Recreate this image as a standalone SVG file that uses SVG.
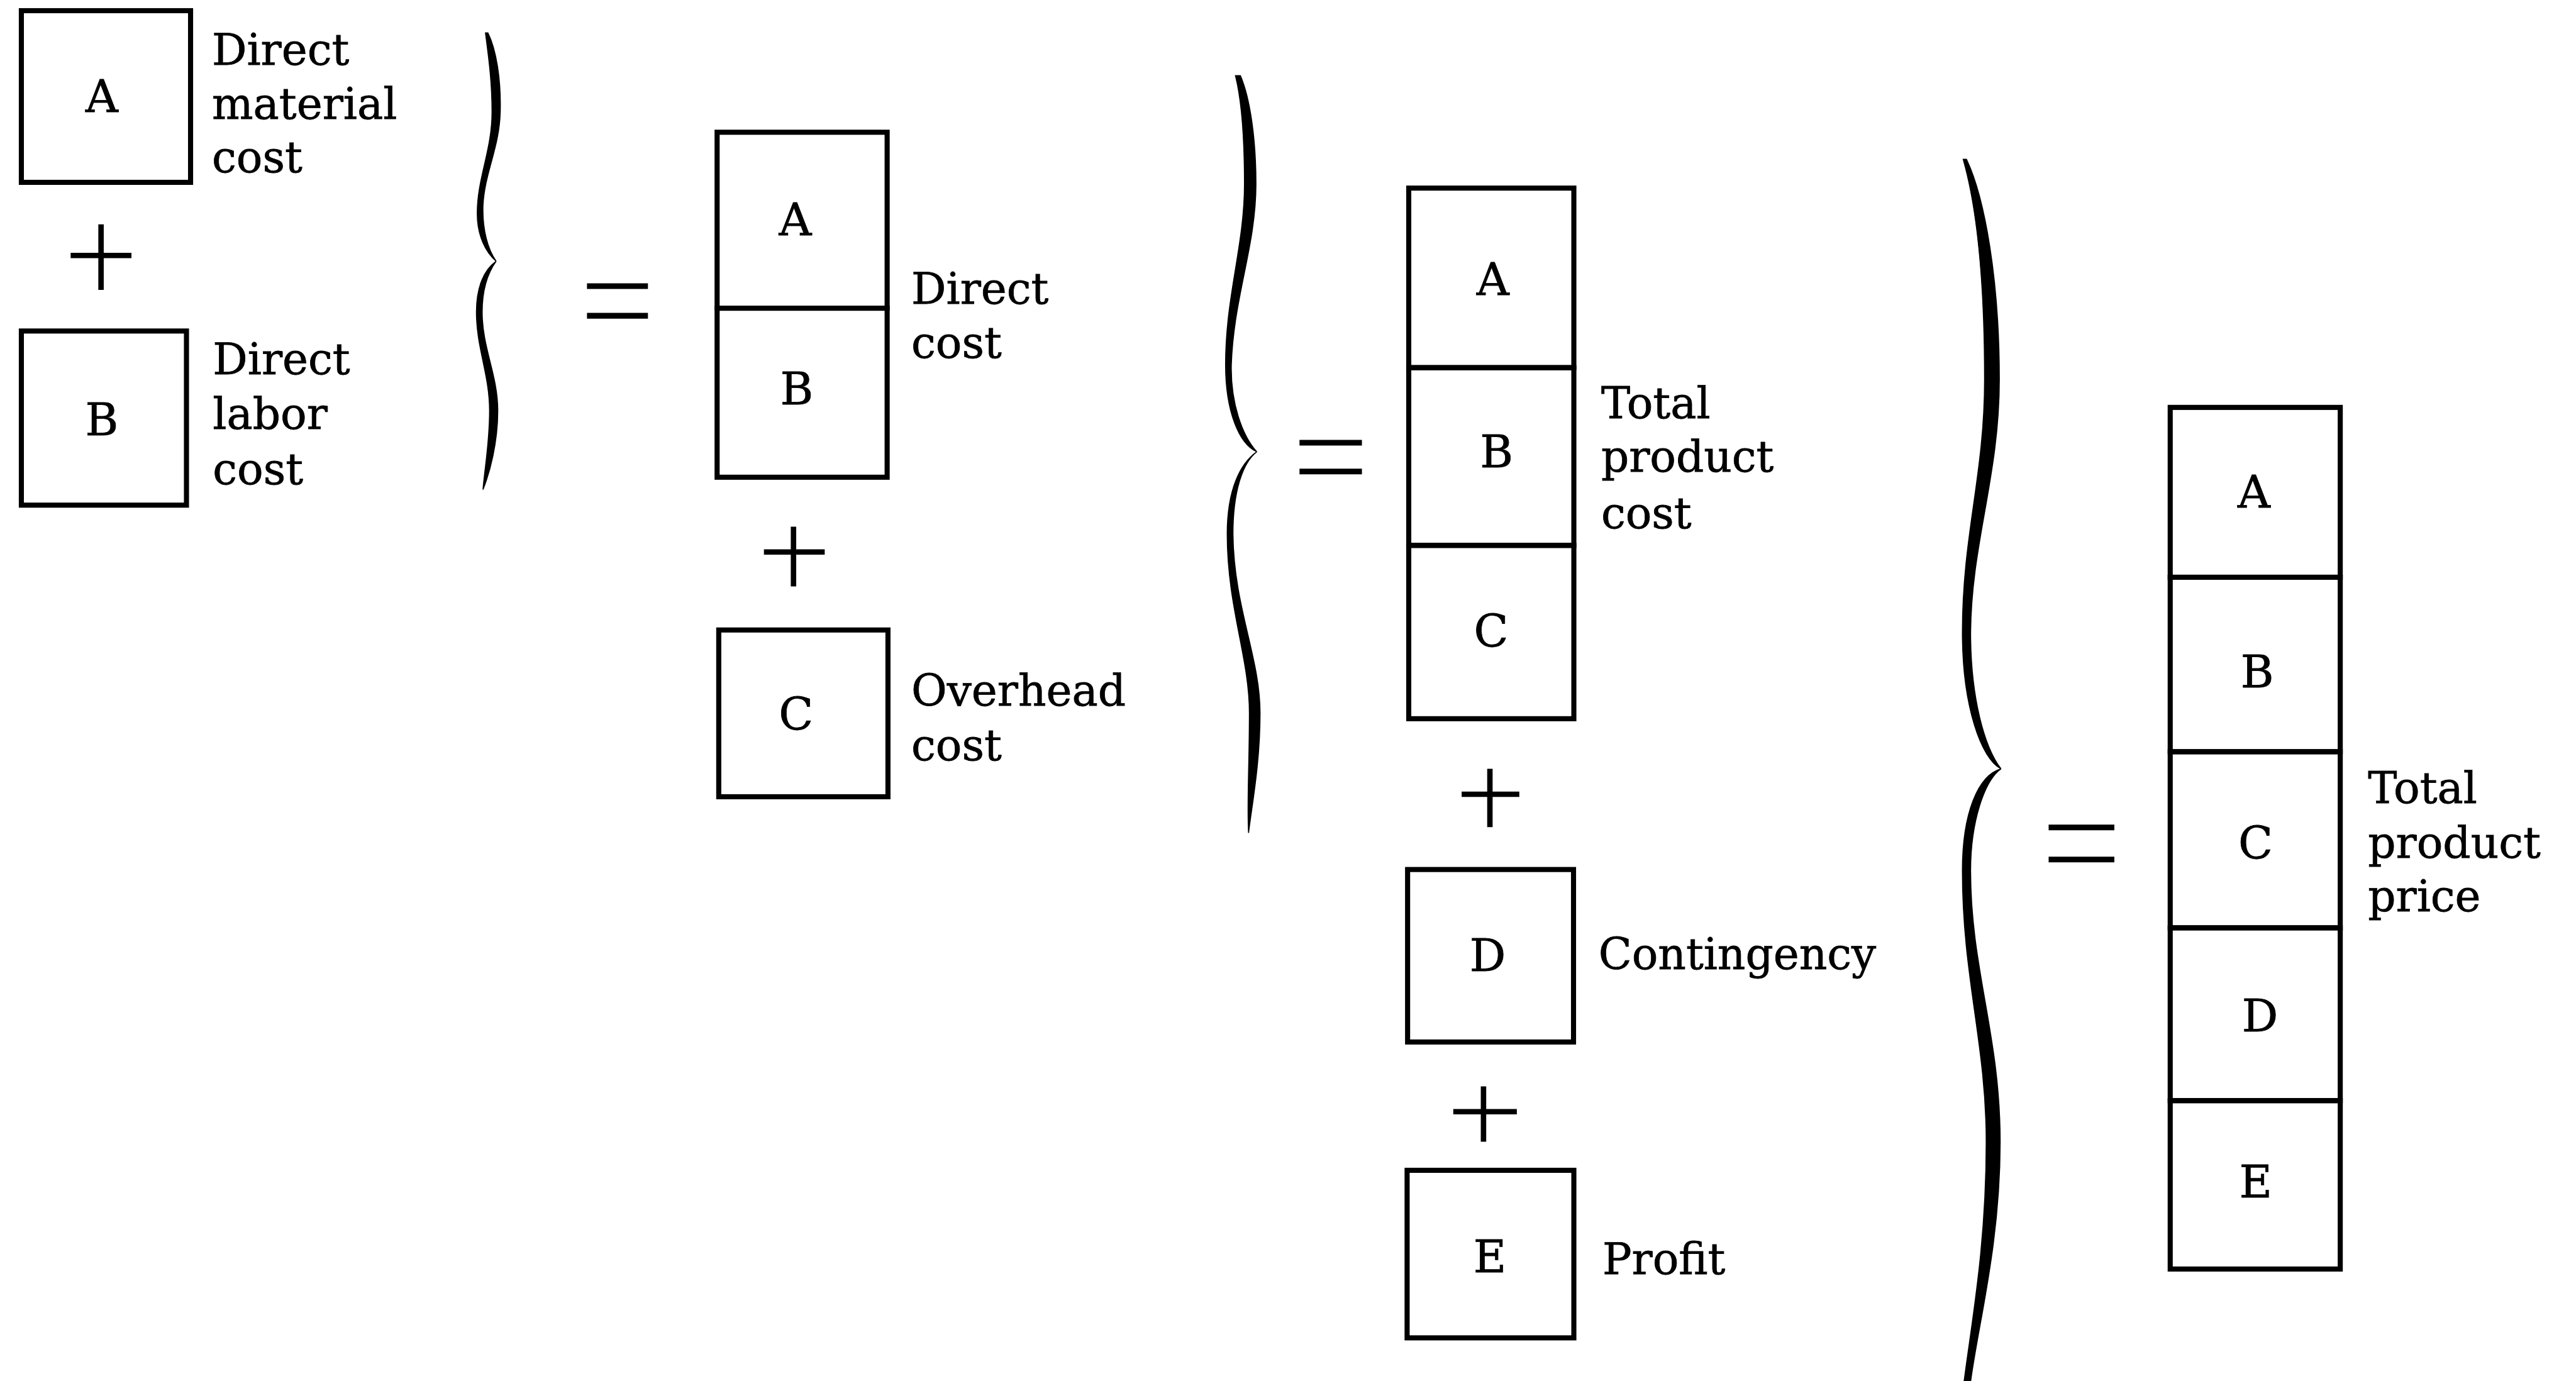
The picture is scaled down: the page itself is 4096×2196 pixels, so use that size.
<svg xmlns="http://www.w3.org/2000/svg" width="4096" height="2196" viewBox="0 0 4096 2196">
<style>
.box{fill:none;stroke:#000;stroke-width:3.1;stroke-linejoin:miter}
.op{stroke:#000;stroke-width:3.3;fill:none;stroke-linecap:butt}
.eq{stroke:#000;stroke-width:3.5;fill:none}
.brace{fill:#000;stroke:#000;stroke-width:0.6}
text{font-family:"DejaVu Serif","Liberation Serif",serif;font-size:26.5px;fill:#000;stroke:#000;stroke-width:0.3}
.c{text-anchor:middle;font-size:27.5px}
</style>
<rect width="4096" height="2196" fill="#fff"/>
<g id="diagram" transform="scale(2.61224)">
  <g id="col1-A"><rect class="box" x="13" y="6.5" width="103" height="104.5"/><text class="c" x="62" y="68">A</text></g>
  <g id="label-direct-material"><text x="129" y="39.6">Direct</text><text x="129" y="72.2">material</text><text x="129" y="105">cost</text></g>
  <g id="col1-B"><rect class="box" x="13" y="201.5" width="100.5" height="106"/><text class="c" x="62" y="265">B</text></g>
  <g id="label-direct-labor"><text x="129.5" y="227.7">Direct</text><text x="129.5" y="261">labor</text><text x="129.5" y="294.7">cost</text></g>

  <g id="col2-A"><rect class="box" x="436.5" y="80.5" width="103.5" height="107.1"/><text class="c" x="484" y="143">A</text></g>
  <g id="col2-B"><rect class="box" x="436.5" y="187.6" width="103.5" height="102.9"/><text class="c" x="485" y="246">B</text></g>
  <g id="label-direct-cost"><text x="554.7" y="184.8">Direct</text><text x="554.7" y="218">cost</text></g>
  <g id="col2-C"><rect class="box" x="437.5" y="383.5" width="103" height="101.5"/><text class="c" x="484.5" y="444">C</text></g>
  <g id="label-overhead"><text x="554.7" y="429.4">Overhead</text><text x="554.7" y="462.8">cost</text></g>

  <g id="col3-A"><rect class="box" x="857.5" y="114.5" width="100.5" height="109.3"/><text class="c" x="908.7" y="179.5">A</text></g>
  <g id="col3-B"><rect class="box" x="857.5" y="223.8" width="100.5" height="108.2"/><text class="c" x="911" y="284.4">B</text></g>
  <g id="col3-C"><rect class="box" x="857.5" y="332" width="100.5" height="105.5"/><text class="c" x="907.6" y="393.6">C</text></g>
  <g id="label-total-cost"><text x="974.6" y="254.4">Total</text><text x="974.6" y="287.3">product</text><text x="974.6" y="321.4">cost</text></g>
  <g id="col3-D"><rect class="box" x="856.8" y="529.3" width="101" height="105"/><text class="c" x="905.6" y="591">D</text></g>
  <g id="label-contingency"><text x="973" y="590">Contingency</text></g>
  <g id="col3-E"><rect class="box" x="856.5" y="712.4" width="101.5" height="102"/><text class="c" x="906.9" y="774.5">E</text></g>
  <g id="label-profit"><text x="975.4" y="775.7">Profit</text></g>

  <g id="col4-A"><rect class="box" x="1321" y="248" width="103.5" height="103.4"/><text class="c" x="1372" y="309">A</text></g>
  <g id="col4-B"><rect class="box" x="1321" y="351.4" width="103.5" height="106.2"/><text class="c" x="1374" y="418.4">B</text></g>
  <g id="col4-C"><rect class="box" x="1321" y="457.6" width="103.5" height="107.2"/><text class="c" x="1373" y="522.5">C</text></g>
  <g id="col4-D"><rect class="box" x="1321" y="564.8" width="103.5" height="105.2"/><text class="c" x="1375.7" y="628">D</text></g>
  <g id="col4-E"><rect class="box" x="1321" y="670" width="103.5" height="102.5"/><text class="c" x="1373" y="729">E</text></g>
  <g id="label-total-price"><text x="1441.4" y="489">Total</text><text x="1441.4" y="522">product</text><text x="1441.4" y="554.8">price</text></g>

  <g id="connectors">
    <g id="plus-signs">
      <path class="op" d="M43 155.5H80M61.5 136.6V176.5"/>
      <path class="op" d="M465 336H502M483 320.6V357"/>
      <path class="op" d="M889.7 483.5H924.8M906.9 468V503.5"/>
      <path class="op" d="M884.6 676.7H923.3M903 661.3V695"/>
    </g>
    <g id="equals-signs">
      <path class="eq" d="M357.3 174.2H394.4M357.3 192.2H394.4"/>
      <path class="eq" d="M791 269.5H829M791 287H829"/>
      <path class="eq" d="M1247 503.7H1287M1247 523.2H1287"/>
    </g>
    <g id="braces">
      <path class="brace" d="M297 20 C302 30 305 48 304.5 68 C304 90 295 105 294 125 C293.5 140 297 152 302 159 C296 154 290.5 144 290.5 130 C290.5 108 299.5 92 299.5 68 C299.5 48 297 32 295.5 20 Z
        M302 159 C297 166 293.5 176 293.5 190 C293.5 212 303 228 303 250 C303 270 298 288 294 298 C295 285 298 270 298 250 C298 228 290 212 290 190 C290 174 295 164 302 159 Z"/>
      <path class="brace" d="M755 46 C761 60 764.5 85 764.5 112 C764.5 150 751 180 749.5 222 C749 245 756 265 765 275 C754 270 746 250 746 222 C746 180 757.5 150 757.5 112 C757.5 85 756 62 752 46 Z
        M765 275 C756 282 750.5 300 750.5 325 C751 370 767 400 767 434 C767 465 762 490 760 507 C759 490 760.5 465 760.5 434 C760.5 400 747 370 747 325 C747 298 755 282 765 275 Z"/>
      <path class="brace" d="M1197 97 C1208 120 1217 170 1217 231 C1217 290 1200 330 1199.5 385 C1199.5 425 1208 455 1218 468 C1206 462 1194.5 430 1194.5 385 C1194.5 325 1208 290 1208 231 C1208 170 1203 125 1195 97 Z
        M1218 468 C1208 475 1199.5 500 1199.5 530 C1199.5 590 1217.5 630 1217.5 695 C1217.5 760 1203 810 1199 845 L1195 845 C1200 805 1209 760 1209 695 C1209 635 1194.5 595 1194.5 530 C1194.5 495 1204 472 1218 468 Z"/>
    </g>
  </g>
</g>
</svg>
